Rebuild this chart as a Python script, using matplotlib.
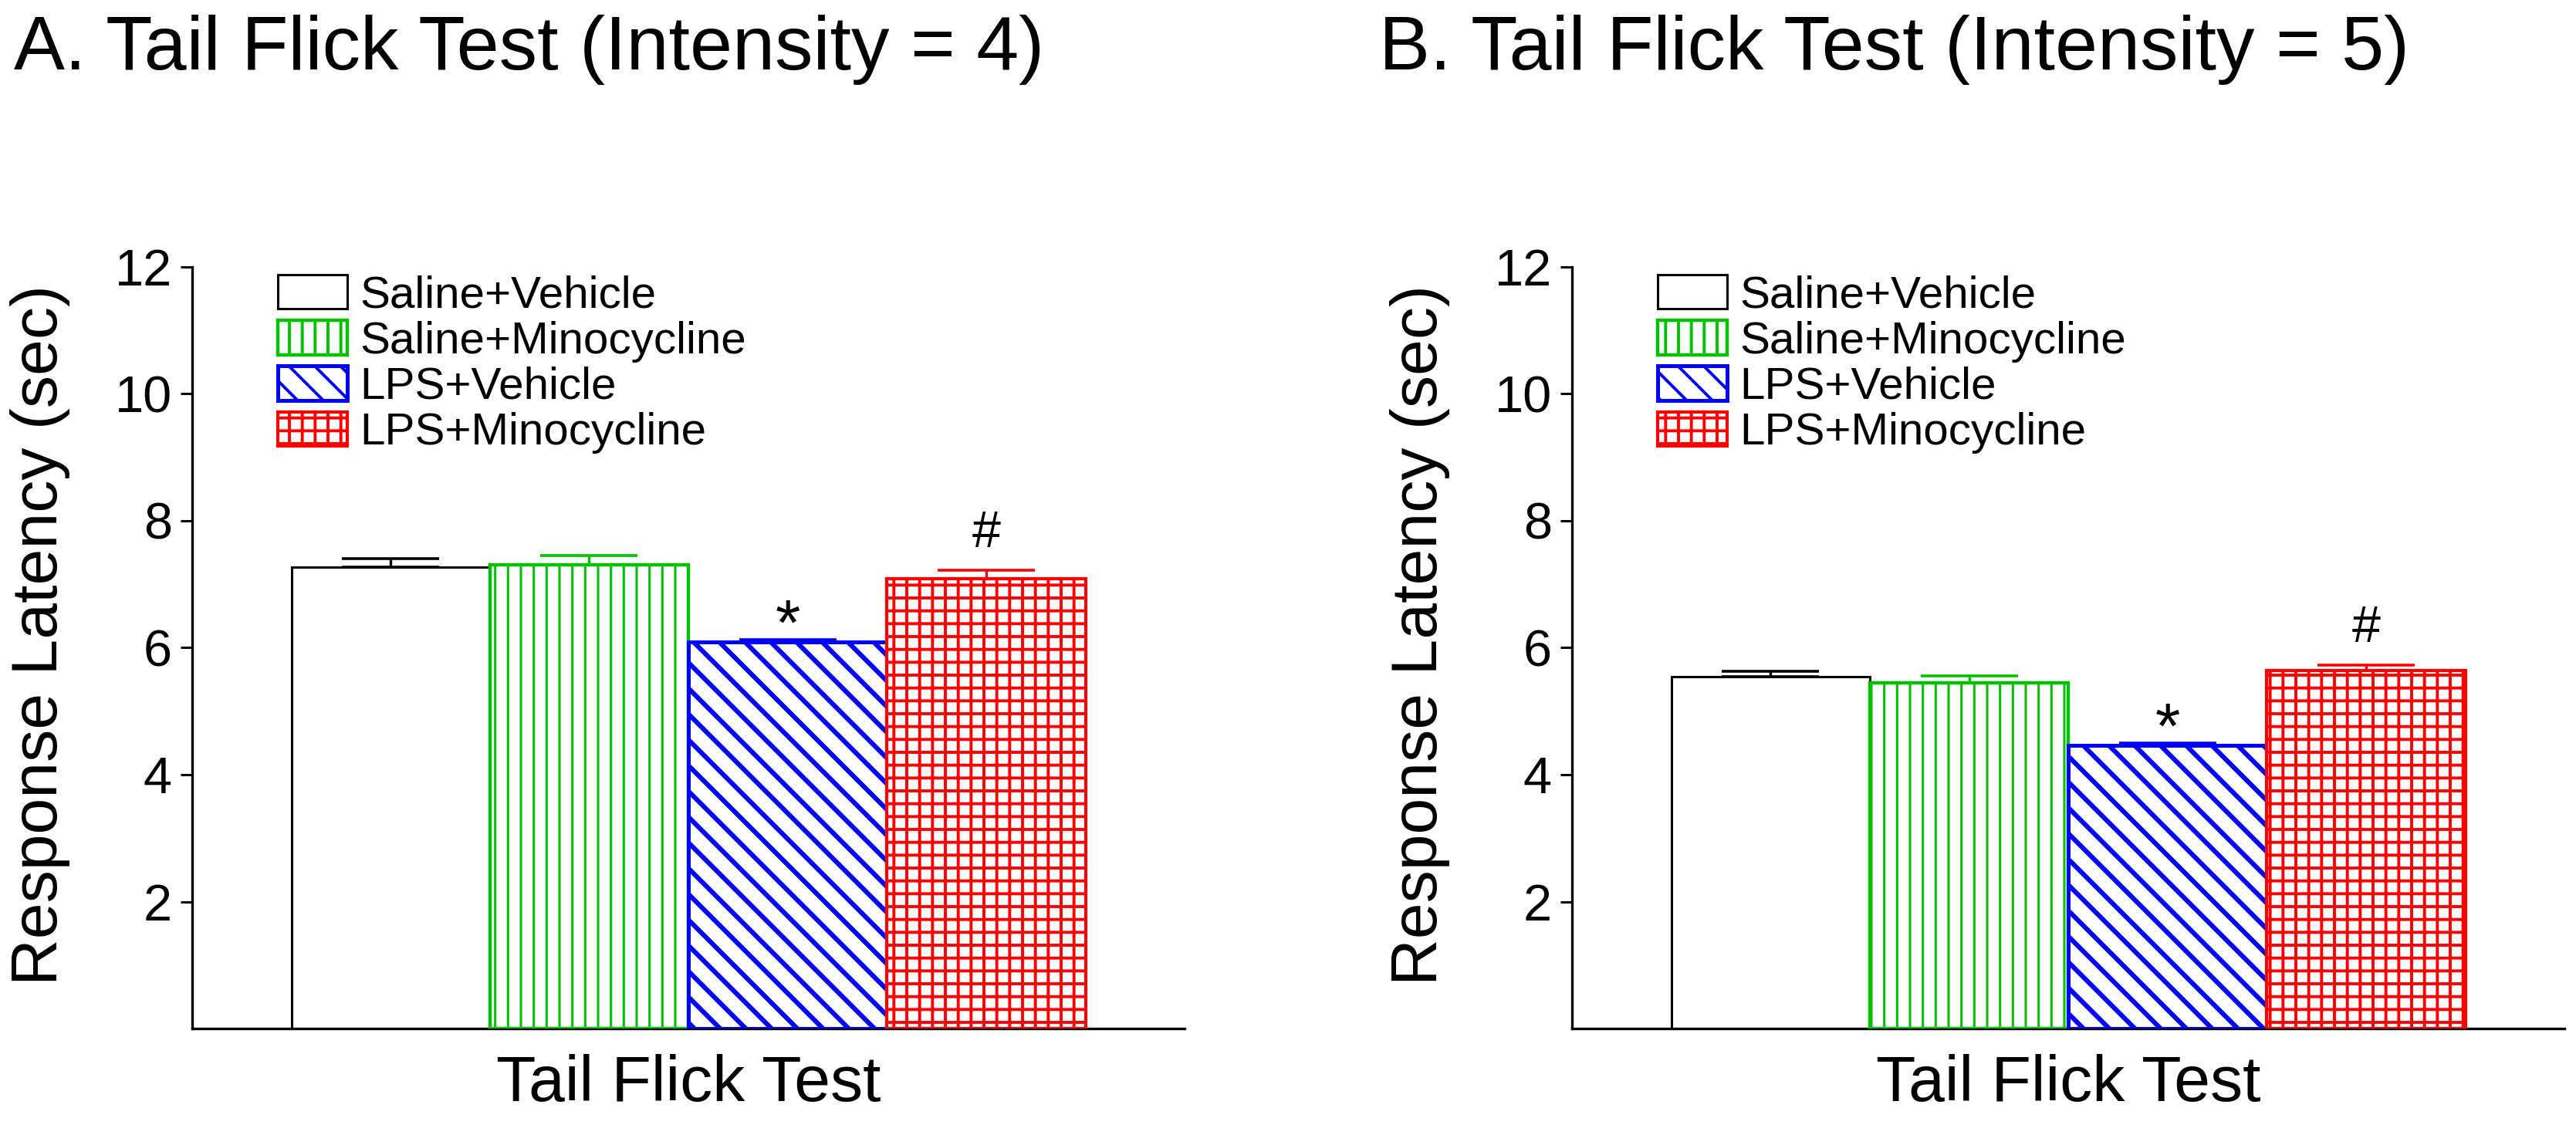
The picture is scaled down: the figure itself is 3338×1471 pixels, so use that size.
import matplotlib
matplotlib.use('Agg')
import matplotlib.pyplot as plt

# group names / legend labels
groups = ['Saline+Vehicle', 'Saline+Minocycline', 'LPS+Vehicle', 'LPS+Minocycline']

# panel A: intensity 4 (mean, SEM in sec)
means_a = [7.27, 7.31, 6.09, 7.09]
sem_a = [0.13, 0.14, 0.03, 0.13]

# panel B: intensity 5
means_b = [5.54, 5.45, 4.46, 5.64]
sem_b = [0.09, 0.11, 0.03, 0.09]

marks = ['', '', '*', '#']
titles = ['A. Tail Flick Test (Intensity = 4)', 'B. Tail Flick Test (Intensity = 5)']
yticks = [2, 4, 6, 8, 10, 12]

# styles
colors = ['black', '#00c000', '#0000ff', '#ff0000']
hatches = [None, '||', '\\\\', '++']
hatch_lw = [1.0, 1.1, 2.2, 1.4]
edge_lw = [1.1, 1.6, 1.8, 1.5]

plt.rcParams['font.family'] = ['Liberation Sans', 'DejaVu Sans']
plt.rcParams['hatch.linewidth'] = 1.4

fig = plt.figure(figsize=(16.69, 7.355), dpi=200)


def draw_panel(ax, means, sems, title, title_x):
    for i in range(len(groups)):
        with plt.rc_context({'hatch.linewidth': hatch_lw[i]}):
            bars = ax.bar(i, means[i], width=1.0, color='white', edgecolor=colors[i],
                          hatch=hatches[i], linewidth=edge_lw[i], label=groups[i], zorder=2 + i)
        p = bars[0]
        if hasattr(p, 'set_hatch_linewidth'):
            p.set_hatch_linewidth(hatch_lw[i])
        ax.errorbar(i, means[i], yerr=[[0], [sems[i]]], fmt='none', ecolor=colors[i],
                    elinewidth=1.2, capsize=22.7, capthick=1.3 if i != 2 else 2.0, zorder=1)
        top = means[i] + sems[i]
        if marks[i] == '*':
            ax.annotate('*', (i, top), xytext=(0, -2), textcoords='offset points',
                        ha='center', va='baseline', fontsize=30)
        elif marks[i] == '#':
            ax.annotate('#', (i, top), xytext=(0, 10.8), textcoords='offset points',
                        ha='center', va='baseline', fontsize=24)

    ax.set_xlim(-1.0, 4.0)
    ax.set_ylim(0, 12)
    ax.set_yticks(yticks)
    ax.set_xticks([])
    ax.tick_params(axis='y', direction='out', length=5.4, width=1.1, labelsize=24, pad=4)
    for s in ['top', 'right']:
        ax.spines[s].set_visible(False)
    for s in ['left', 'bottom']:
        ax.spines[s].set_linewidth(1.2)

    ax.set_ylabel('Response Latency (sec)', fontsize=30.3)
    ax.yaxis.label.set_va('center')
    ax.yaxis.set_label_coords(-0.153, 0.517)
    ax.set_xlabel('Tail Flick Test', fontsize=30.3)
    ax.xaxis.set_label_coords(0.5, -0.033)

    with plt.rc_context({'hatch.linewidth': 1.4}):
        ax.legend(loc='upper left', bbox_to_anchor=(0.086, 0.99), frameon=False, fontsize=21,
                  handlelength=1.55, handleheight=0.8, handletextpad=0.28, labelspacing=0.08,
                  borderpad=0, borderaxespad=0)

    fig.text(title_x, 0.9388, title, fontsize=35.6, ha='left', va='baseline')


ax_a = fig.add_axes([0.0746, 0.0938, 0.3853, 0.671])
draw_panel(ax_a, means_a, sem_a, titles[0], 0.0055)

ax_b = fig.add_axes([0.6103, 0.0938, 0.3853, 0.671])
draw_panel(ax_b, means_b, sem_b, titles[1], 0.5355)

fig.savefig('out.png', dpi=200)
